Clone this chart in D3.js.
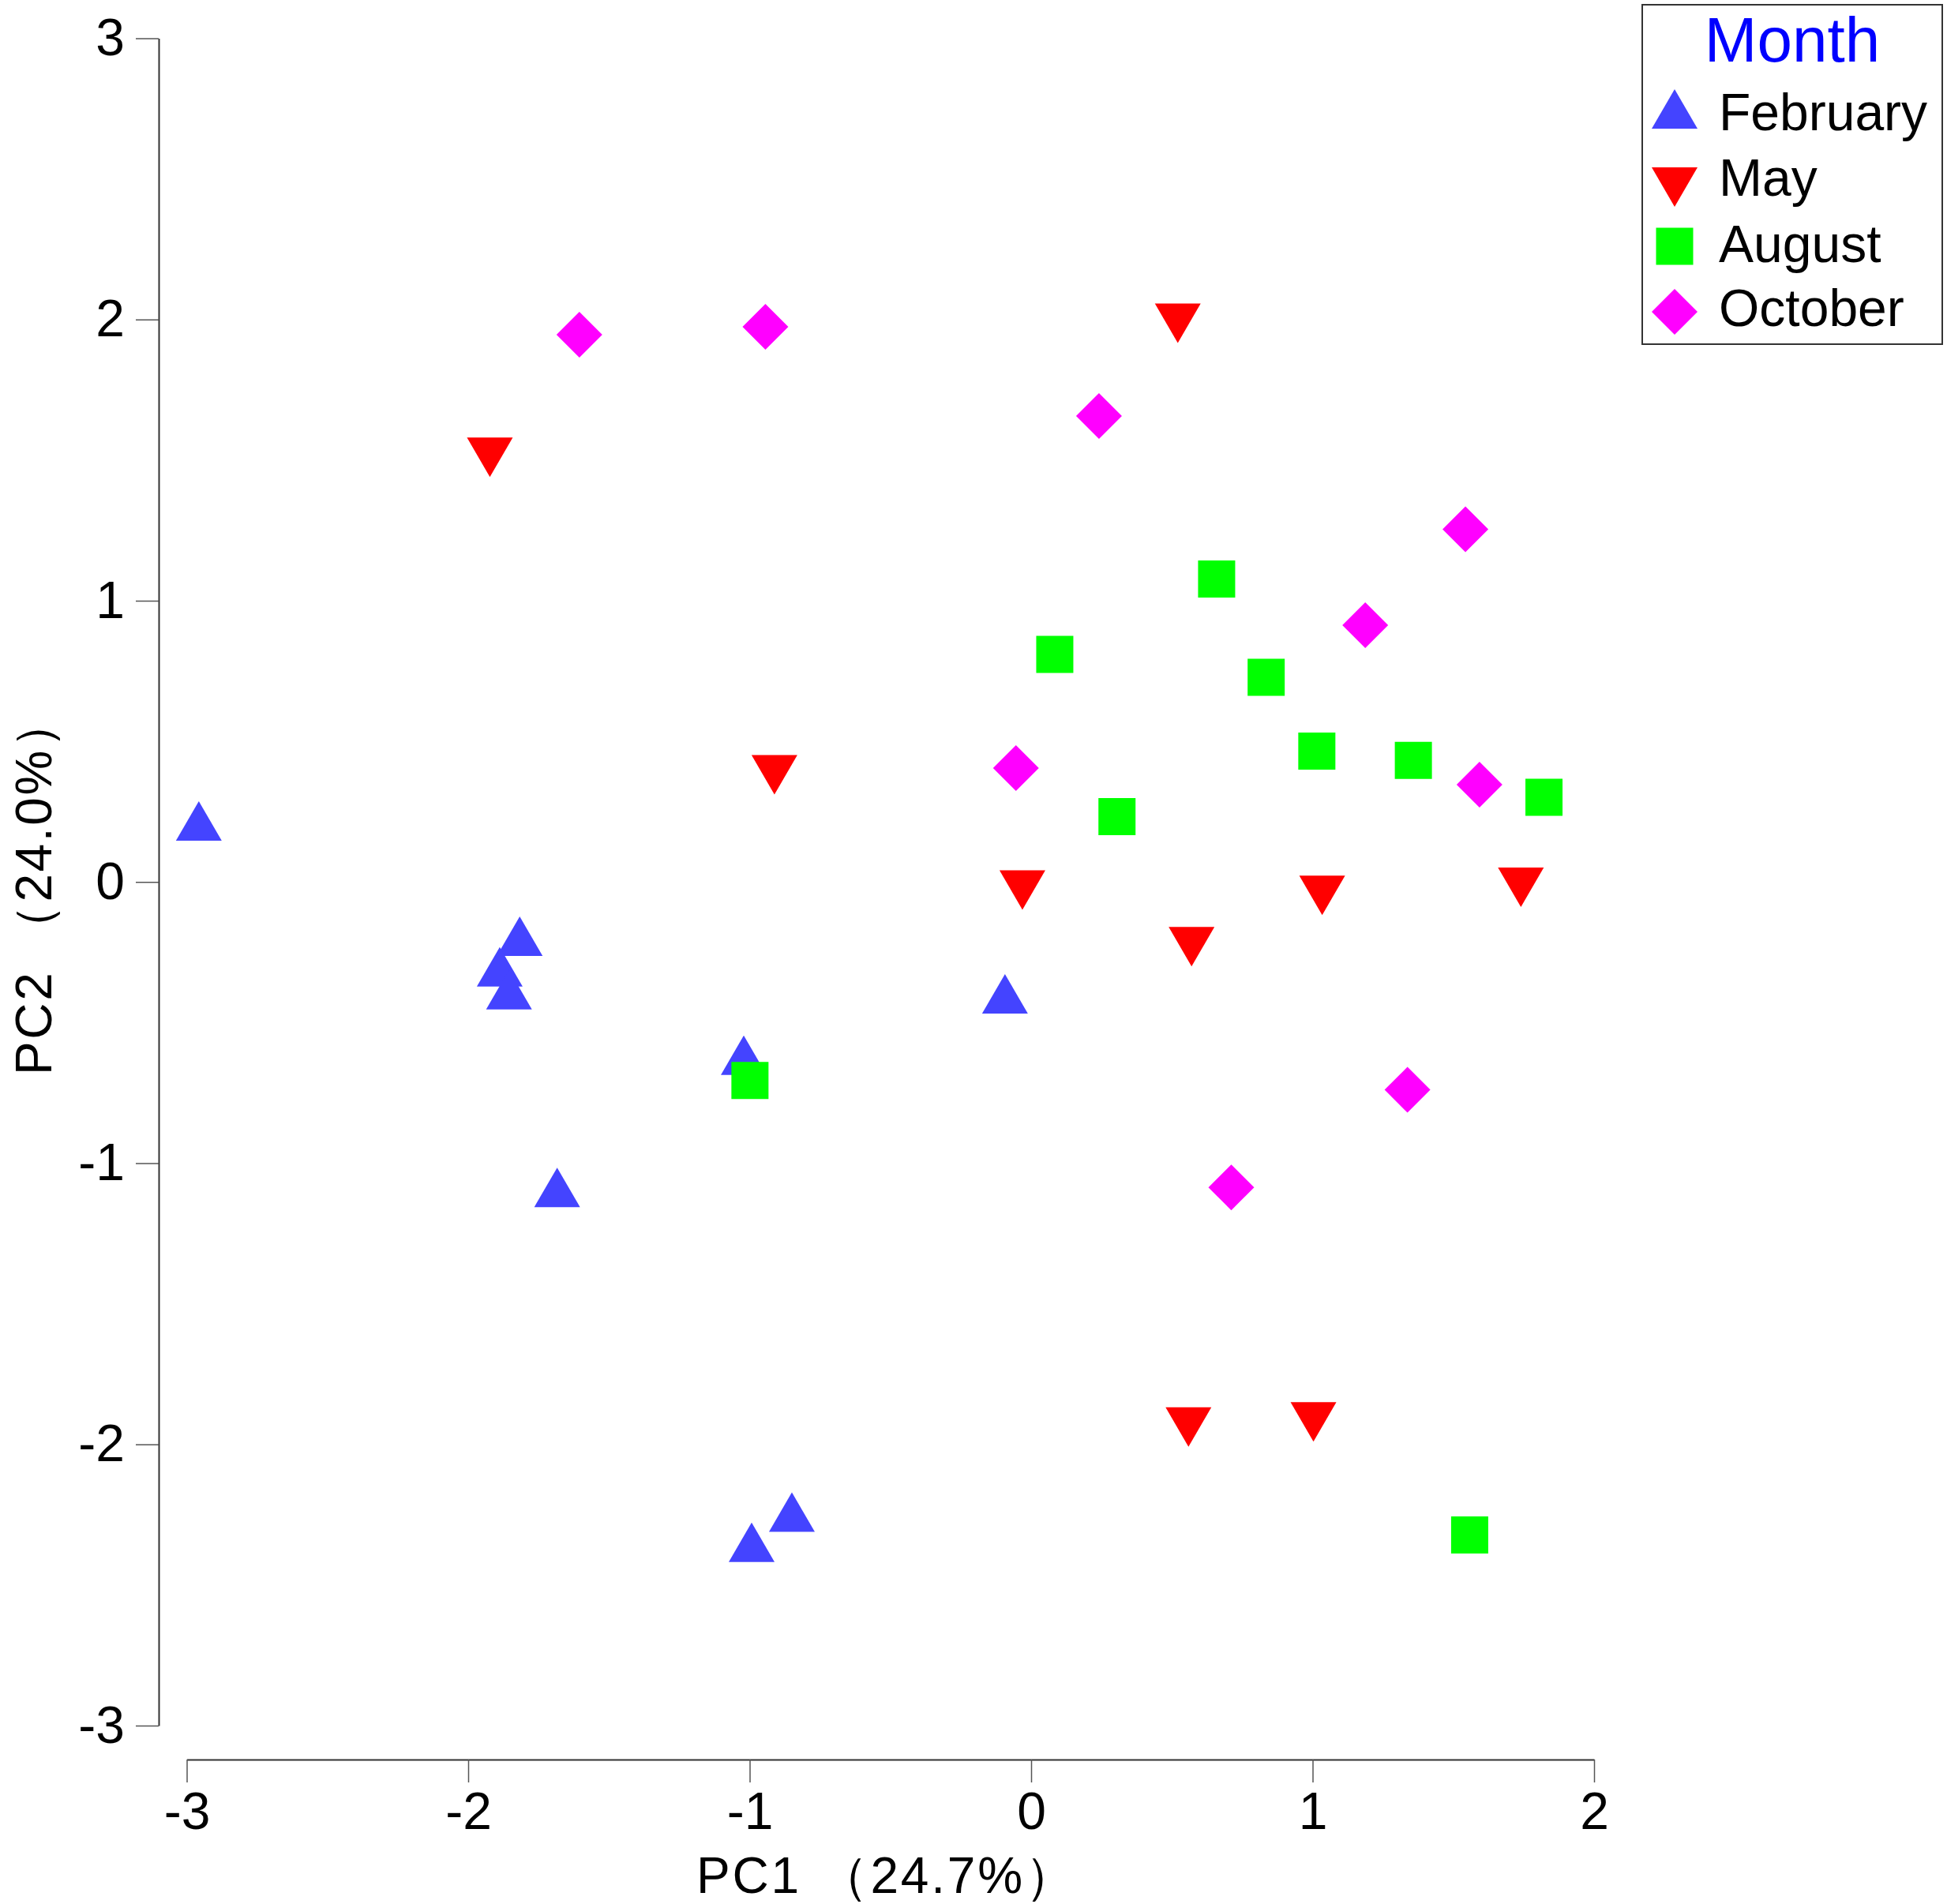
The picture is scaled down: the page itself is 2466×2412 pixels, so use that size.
<html>
<head>
    <title>PCA by month</title>
    <script src="https://d3js.org/d3.v7.min.js"></script>
    <style>
        body { margin: 0; background: #fff; }
        text { font-family: "Liberation Sans", Arial, sans-serif; }
    </style>
</head>
<body>
<script>
    // data
    const months = ["February", "May", "August", "October"];
    const monthColors = ["#4444ff", "#ff0000", "#00ff00", "#ff00ff"];
    const monthShapes = ["up", "down", "square", "diamond"];

    const febPC1 = [-2.957, -1.817, -1.888, -1.855, -1.021, -1.684, -0.093, -0.850, -0.993];
    const febPC2 = [0.217, -0.193, -0.302, -0.383, -0.616, -1.086, -0.398, -2.241, -2.348];

    const mayPC1 = [-1.923, 0.521, -0.912, -0.031, 1.034, 1.740, 0.570, 0.559, 1.003];
    const mayPC2 = [1.510, 1.987, 0.381, -0.029, -0.048, -0.019, -0.230, -1.938, -1.920];

    const augPC1 = [0.659, 0.084, 0.835, 1.015, 1.358, 0.305, 1.822, -0.999, 1.558];
    const augPC2 = [1.077, 0.809, 0.728, 0.465, 0.432, 0.232, 0.301, -0.706, -2.322];

    const octPC1 = [-1.605, -0.944, 0.241, 1.543, 1.187, -0.054, 1.593, 1.337, 0.711];
    const octPC2 = [1.946, 1.974, 1.657, 1.254, 0.913, 0.405, 0.346, -0.739, -1.086];

    const xTicks = [-3, -2, -1, 0, 1, 2];
    const yTicks = [-3, -2, -1, 0, 1, 2, 3];
    const xTitle = "PC1 （24.7%）";
    const yTitle = "PC2 （24.0%）";
    const legendTitle = "Month";

    const seriesPC1 = [febPC1, mayPC1, augPC1, octPC1];
    const seriesPC2 = [febPC2, mayPC2, augPC2, octPC2];

    let points = [];
    months.forEach((m, i) => {
        seriesPC1[i].forEach((v, j) => {
            points.push({month: m, idx: i, pc1: v, pc2: seriesPC2[i][j]});
        });
    });

    // custom marker shapes, centred on their bounding box
    const shapeTypes = {
        up: {draw: function(ctx, s) {
            ctx.moveTo(0, -25); ctx.lineTo(29, 25); ctx.lineTo(-29, 25); ctx.closePath();
        }},
        down: {draw: function(ctx, s) {
            ctx.moveTo(0, 25); ctx.lineTo(29, -25); ctx.lineTo(-29, -25); ctx.closePath();
        }},
        square: {draw: function(ctx, s) {
            ctx.rect(-23.5, -23.5, 47, 47);
        }},
        diamond: {draw: function(ctx, s) {
            ctx.moveTo(0, -29); ctx.lineTo(29, 0); ctx.lineTo(0, 29); ctx.lineTo(-29, 0); ctx.closePath();
        }}
    };

    var svg = d3.select("body").append("svg").attr("width", 2466).attr("height", 2412);

    let xScale = d3.scaleLinear().domain([-3, 2]).range([236.5, 2019]);
    let yScale = d3.scaleLinear().domain([-3, 3]).range([2186, 48.5]);

    let leftAxis = d3.axisLeft(yScale).tickValues(yTicks).tickFormat(d => String(d))
        .tickSizeInner(29).tickSizeOuter(0).tickPadding(14);
    let yAxisG = svg.append("g").attr("class", "y axis").attr("transform", "translate(201,0)").call(leftAxis);

    let bottomAxis = d3.axisBottom(xScale).tickValues(xTicks).tickFormat(d => String(d))
        .tickSizeInner(29).tickSizeOuter(0).tickPadding(12);
    let xAxisG = svg.append("g").attr("class", "x axis").attr("transform", "translate(0,2229)").call(bottomAxis);

    [xAxisG, yAxisG].forEach(g => {
        g.select(".domain").attr("stroke", "#333").attr("stroke-width", 2);
        g.selectAll(".tick line").attr("stroke", "#555").attr("stroke-width", 1.5);
        g.selectAll(".tick text").attr("font-size", 66).attr("fill", "#000")
            .attr("font-family", "'Liberation Sans', Arial, sans-serif");
    });

    svg.append("text")
        .attr("x", 882).attr("y", 2398)
        .attr("font-size", 64)
        .attr("textLength", 480).attr("lengthAdjust", "spacing")
        .text(xTitle);

    svg.append("text")
        .attr("transform", "translate(65,1362) rotate(-90)")
        .attr("font-size", 64)
        .attr("textLength", 478).attr("lengthAdjust", "spacing")
        .text(yTitle);

    let chartArea = svg.append("g").attr("id", "points");
    chartArea.selectAll("path.pt")
        .data(points)
        .enter().append("path")
        .attr("class", "pt")
        .attr("transform", d => "translate(" + xScale(d.pc1) + "," + yScale(d.pc2) + ")")
        .attr("fill", d => monthColors[d.idx])
        .attr("d", d => d3.symbol().type(shapeTypes[monthShapes[d.idx]])());

    // legend
    let legend = svg.append("g").attr("id", "legend");
    legend.append("rect")
        .attr("x", 2080).attr("y", 6).attr("width", 380).attr("height", 430)
        .attr("fill", "#fff").attr("stroke", "#333").attr("stroke-width", 2);
    legend.append("text")
        .attr("x", 2270).attr("y", 78)
        .attr("text-anchor", "middle")
        .attr("font-size", 80)
        .attr("fill", "#0000ff")
        .text(legendTitle);
    let symY = [138, 237, 312, 395];
    let textY = [165, 248, 332, 413];
    months.forEach((m, i) => {
        legend.append("path")
            .attr("transform", "translate(2121," + symY[i] + ")")
            .attr("fill", monthColors[i])
            .attr("d", d3.symbol().type(shapeTypes[monthShapes[i]])());
        legend.append("text")
            .attr("x", 2177).attr("y", textY[i])
            .attr("font-size", 66)
            .attr("fill", "#000")
            .text(m);
    });
</script>
</body>
</html>
